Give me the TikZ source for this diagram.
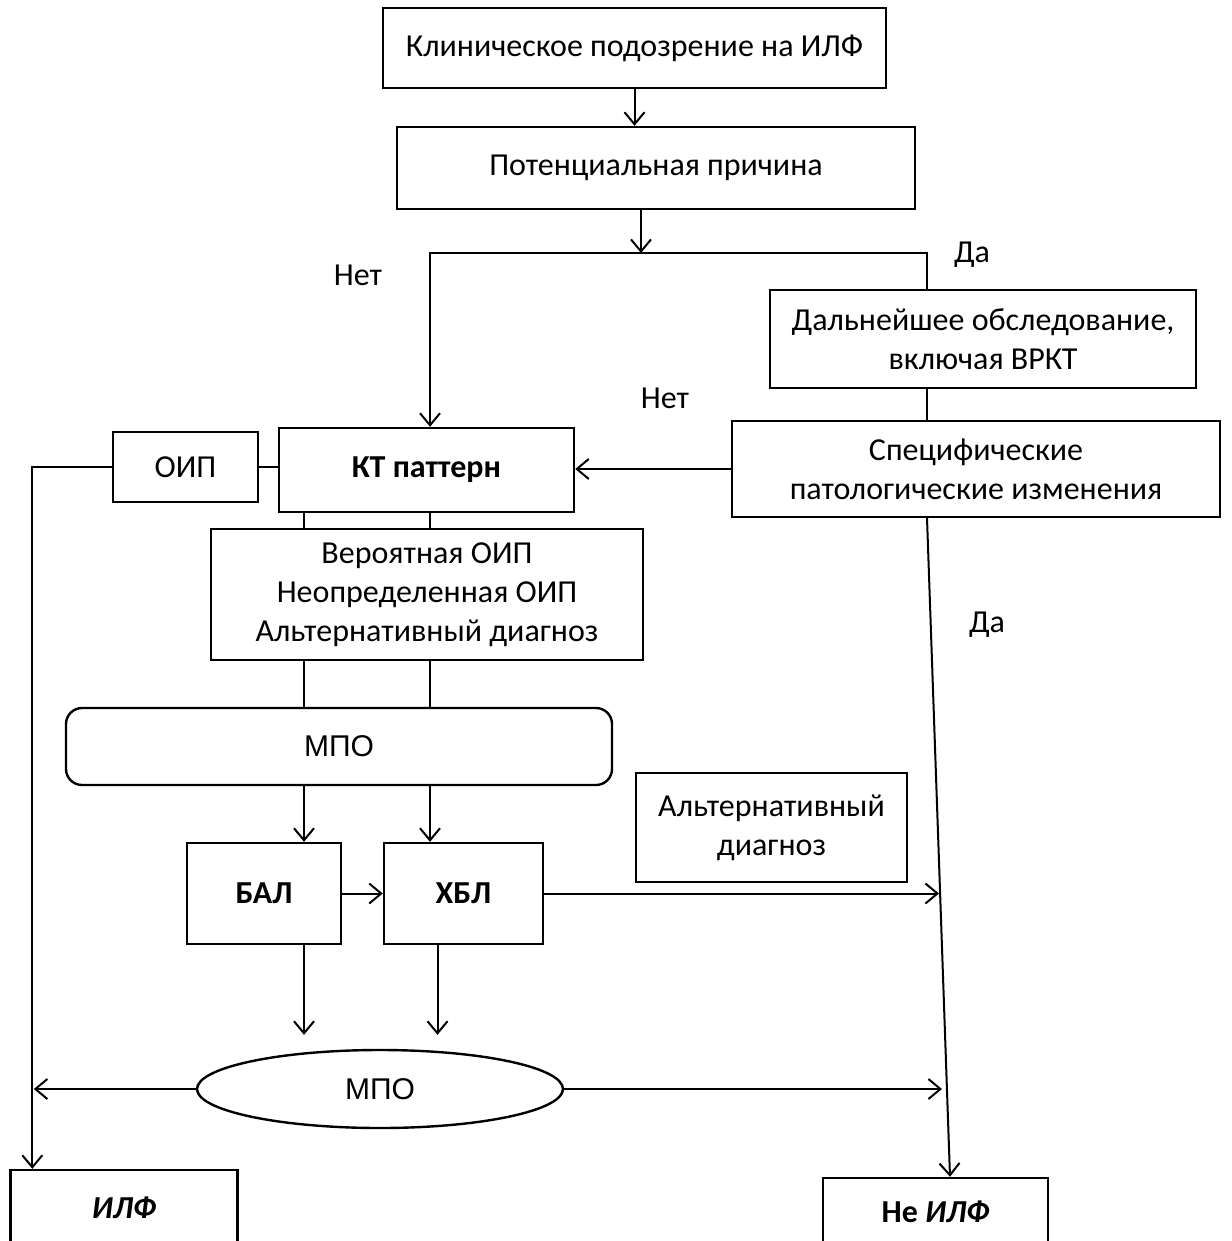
\documentclass[tikz,border=0pt]{standalone}
\usepackage{fontspec}
\setmainfont{Carlito}
\newfontfamily\arialf{Liberation Sans}
\usetikzlibrary{arrows.meta,shapes.geometric}
\begin{document}
\begin{tikzpicture}[x=0.5pt,y=-0.5pt,
 txt/.style={font=\fontsize{16}{19.5}\selectfont},
 box/.style={txt,draw,line width=1.2pt,inner sep=0pt,align=center},
 conn/.style={line width=1pt},
 arr/.style={conn,-{Straight Barb[length=6pt,width=10pt,line width=1pt]}}]
\useasboundingbox (0,0) rectangle (1231,1241);
\clip (0,0) rectangle (1231,1241);
% named x positions
\coordinate (xa) at (304,0);
\coordinate (xb) at (430,0);
\coordinate (xc) at (927,0);
\coordinate (split) at (641,253);
\coordinate (r1) at (939,893.5);
\coordinate (r2) at (942,1089);
% nodes
\node[box,minimum width=251.5pt,minimum height=40pt] (b1) at (634.5,48) {Клиническое подозрение на ИЛФ};
\node[box,minimum width=259pt,minimum height=41pt] (b2) at (656,168) {Потенциальная причина};
\node[box,minimum width=213pt,minimum height=49pt] (b3) at (983,339) {Дальнейшее обследование,\\ включая ВРКТ};
\node[box,minimum width=244pt,minimum height=48pt] (b4) at (976,469) {Специфические\\ патологические изменения};
\node[box,minimum width=147.5pt,minimum height=42pt,font=\fontsize{16}{19.5}\selectfont\bfseries] (kt) at (426.5,470) {КТ паттерн};
\node[box,minimum width=72.5pt,minimum height=35pt] (oip) at (185.5,467) {ОИП};
\node[box,minimum width=216pt,minimum height=65.5pt] (ver) at (427,594.5) {Вероятная ОИП\\ Неопределенная ОИП\\ Альтернативный диагноз};
\node[box,rounded corners=8pt,minimum width=273pt,minimum height=38.5pt,font=\arialf\fontsize{15}{18}\selectfont] (mpo1) at (339,746.5) {МПО};
\node[box,minimum width=77pt,minimum height=50.5pt,font=\fontsize{16}{19.5}\selectfont\bfseries] (bal) at (264,893.5) {БАЛ};
\node[box,minimum width=79.5pt,minimum height=50.5pt,font=\fontsize{16}{19.5}\selectfont\bfseries] (hbl) at (463.5,893.5) {ХБЛ};
\node[box,minimum width=135.5pt,minimum height=54.5pt] (alt) at (771.5,827.5) {Альтернативный\\ диагноз};
\node[box,ellipse,minimum width=183pt,minimum height=39pt,font=\arialf\fontsize{15}{18}\selectfont] (mpo2) at (380,1089) {МПО};
\node[box,minimum width=113.5pt,minimum height=38pt,font=\fontsize{16}{19.5}\selectfont\bfseries] (ilf) at (124,1208) {\itshape ИЛФ};
\node[box,minimum width=112.5pt,minimum height=34pt,font=\fontsize{16}{19.5}\selectfont\bfseries] (nilf) at (935.5,1212) {Не \itshape ИЛФ};
% labels
\node[txt] (l1) at (358,275) {Нет};
\node[txt] (l2) at (972,255) {Да};
\node[txt] (l3) at (665,398) {Нет};
\node[txt] (l4) at (987,625) {Да};
% connectors
\draw[arr] (b1.south) -- (b1.south |- b2.north);
\draw[arr] (b2.south -| split) -- (split);
\draw[arr] (split) -| (kt.north -| xb);
\draw[conn] (split) -| (b3.north -| xc);
\draw[conn] (b3.south -| xc) -- (b4.north -| xc);
\draw[arr] (b4.west) -- (b4.west -| kt.east);
\draw[conn] (oip.east) -- (oip.east -| kt.west);
\draw[arr] (oip.west) -| ([xshift=11.5pt]ilf.north west);
\draw[conn] (kt.south -| xa) -- (ver.north -| xa);
\draw[conn] (kt.south -| xb) -- (ver.north -| xb);
\draw[conn] (ver.south -| xa) -- (mpo1.north -| xa);
\draw[conn] (ver.south -| xb) -- (mpo1.north -| xb);
\draw[arr] (mpo1.south -| xa) -- (bal.north -| xa);
\draw[arr] (mpo1.south -| xb) -- (hbl.north -| xb);
\draw[arr] (bal.east) -- (hbl.west);
\draw[arr] (hbl.east) -- (r1);
\draw[arr] (b4.south -| xc) -- ([xshift=7.25pt]nilf.north);
\draw[arr,shorten >=7pt] (bal.south -| xa) -- (mpo2.north -| xa);
\draw[arr,shorten >=7pt] ([xshift=-13pt]hbl.south) -- ([xshift=-13pt]hbl.south |- mpo2.north);
\draw[arr] (mpo2.west) -- (mpo2.west -| oip.west) -- +(-78,0);
\draw[arr] (mpo2.east) -- (r2);
\end{tikzpicture}
\end{document}
